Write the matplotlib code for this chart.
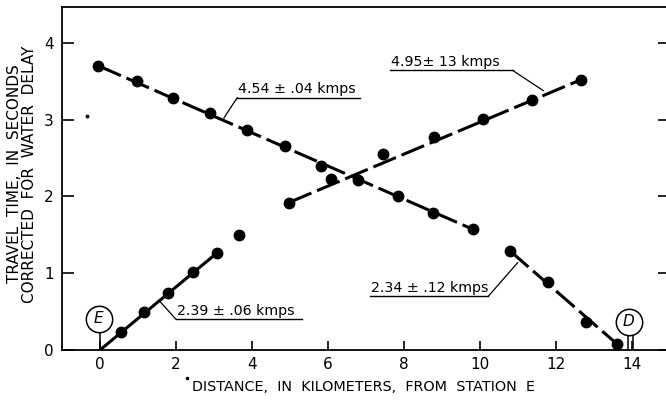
import matplotlib
matplotlib.use("Agg")
import matplotlib.pyplot as plt

# ---------------------------------------------------------------------------
# Travel times (corrected for water delay) vs distance from station E
# ---------------------------------------------------------------------------

# shots recorded going away from D (falling branch)
fall_x = [-0.04, 0.98, 1.91, 2.89, 3.86, 4.87, 5.81, 6.80, 7.83, 8.77, 9.82,
          10.79, 11.78, 12.78, 13.60]
fall_y = [3.70, 3.50, 3.28, 3.08, 2.86, 2.65, 2.40, 2.21, 2.00, 1.79, 1.57,
          1.29, 0.88, 0.37, 0.08]

# shots recorded going away from E (rising branch)
rise_x = [0.55, 1.16, 1.78, 2.46, 3.07, 3.65, 4.97, 6.08, 7.46, 8.80, 10.09,
          11.38, 12.66]
rise_y = [0.23, 0.49, 0.74, 1.02, 1.26, 1.50, 1.92, 2.23, 2.55, 2.77, 3.01,
          3.26, 3.52]

# fitted velocity segments (end points)
seg_x = [[-0.04, 9.82], [10.79, 13.60], [0.0, 3.07], [4.97, 12.66]]
seg_y = [[3.70, 1.57], [1.29, 0.08], [0.0, 1.26], [1.92, 3.52]]

# velocity labels: text, text start, underline end x, leader tip
vel_text = ["4.54 \u00b1 .04 kmps", "2.34 \u00b1 .12 kmps",
            "2.39 \u00b1 .06 kmps", "4.95\u00b1 13 kmps"]
vel_pos = [(3.61, 3.285), (7.10, 0.70), (2.00, 0.40), (7.63, 3.64)]
vel_line_end = [6.84, 10.22, 5.31, 10.86]
vel_tip = [(3.26, 3.02), (10.99, 1.137), (1.58, 0.63), (11.67, 3.376)]
vel_leader_from_right = [False, True, False, True]

stations = ["E", "D"]
station_x = [0.0, 13.95]
station_circle_y = [0.41, 0.37]

x_ticks = [0, 2, 4, 6, 8, 10, 12, 14]
y_ticks = [0, 1, 2, 3, 4]

plt.rcParams["font.family"] = ["DejaVu Sans"]

fig = plt.figure(figsize=(6.66, 4.01), dpi=100)
ax = fig.add_axes([62 / 666, 51 / 401, 608 / 666, 343 / 401])

for xs, ys in zip(seg_x, seg_y):
    ax.plot(xs, ys, color="black", lw=2.2, dashes=(8, 2), solid_capstyle="butt",
            dash_capstyle="butt", zorder=2)

ax.plot(fall_x, fall_y, "o", color="black", ms=7.5, zorder=3)
ax.plot(rise_x, rise_y, "o", color="black", ms=7.5, zorder=3)

# labels with underline + leader
for txt, (tx, ty), x1, (lx, ly), right in zip(vel_text, vel_pos, vel_line_end,
                                              vel_tip, vel_leader_from_right):
    ax.text(tx + 0.03, ty + 0.02, txt, fontsize=10.2, ha="left", va="bottom",
            fontweight="normal")
    ax.plot([tx, x1], [ty, ty], color="black", lw=1.0)
    sx = x1 if right else tx
    ax.plot([sx, lx], [ty, ly], color="black", lw=0.9)

# station markers
for name, sx, cy in zip(stations, station_x, station_circle_y):
    ax.plot([sx - 0.03], [cy], "o", ms=19, mfc="white", mec="black", mew=1.1,
            zorder=4)
    ax.text(sx - 0.03, cy, name, fontsize=11, style="italic", ha="center",
            va="center", zorder=5)
    if name == "E":
        ax.plot([sx, sx], [0, cy - 0.165], color="black", lw=1.1)
    else:
        ax.plot([sx - 0.06, sx - 0.06], [0, cy - 0.165], color="black", lw=1.1)
        ax.plot([sx + 0.07, sx + 0.07], [0, cy - 0.165], color="black", lw=1.1)

# stray specks in the original
ax.plot([-0.33], [3.05], "o", color="black", ms=1.8)
ax.plot([2.28], [-0.37], "o", color="black", ms=1.5, clip_on=False)

ax.set_xlim(-1, 15)
ax.set_ylim(0, 4.466)
ax.set_xticks(x_ticks)
ax.set_yticks(y_ticks)
ax.tick_params(axis="x", direction="in", length=6.5, width=1.2,
               labelsize=11, pad=5)
ax.tick_params(axis="y", direction="in", length=8.5, width=1.2,
               labelsize=11, pad=6, right=True)
ax.spines["right"].set_visible(False)
for s in ["left", "top", "bottom"]:
    ax.spines[s].set_linewidth(1.3)

fig.text(15 / 666, 1 - 174 / 401, "TRAVEL  TIME,  IN  SECONDS", rotation=90,
         ha="center", va="center", fontsize=11)
fig.text(29.5 / 666, 1 - 174 / 401, "CORRECTED  FOR  WATER  DELAY", rotation=90,
         ha="center", va="center", fontsize=11)
fig.text(364 / 666, 1 - 387 / 401, "DISTANCE,  IN  KILOMETERS,  FROM  STATION  E",
         ha="center", va="center", fontsize=10.4)

fig.savefig("out.png", dpi=100)
